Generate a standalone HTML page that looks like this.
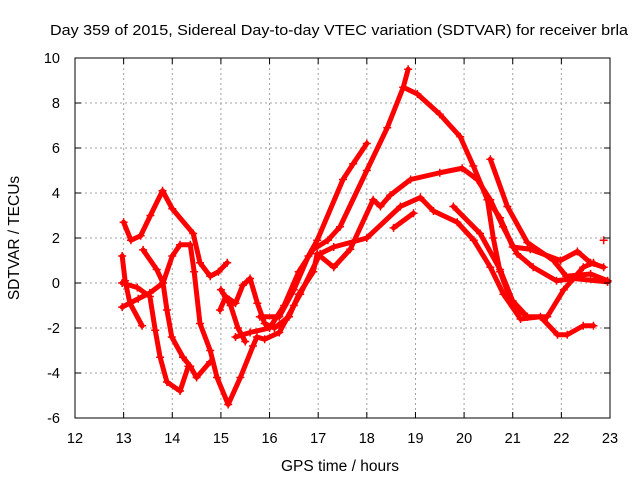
<!DOCTYPE html>
<html><head><meta charset="utf-8"><style>
html,body{margin:0;padding:0;background:#fff;}
svg{display:block;font-family:"Liberation Sans",sans-serif;}
</style></head><body>
<svg id="chart" width="640" height="480" viewBox="0 0 640 480" xmlns="http://www.w3.org/2000/svg">
<rect width="640" height="480" fill="#fff"/>
<text x="339" y="35" font-size="15" textLength="578" lengthAdjust="spacingAndGlyphs" text-anchor="middle">Day 359 of 2015, Sidereal Day-to-day VTEC variation (SDTVAR) for receiver brla</text>
<text x="340" y="471" font-size="15.5" text-anchor="middle">GPS time / hours</text>
<text transform="translate(19,238) rotate(-90)" font-size="15.5" text-anchor="middle">SDTVAR / TECUs</text>
<g id="grid"></g>
<g id="series"></g>
<g id="axes"></g>
</svg>
<script>
const xTicks = [12,13,14,15,16,17,18,19,20,21,22,23];
const yTicks = [-6,-4,-2,0,2,4,6,8,10];
const track1 = [[13.0,2.7],[13.15,1.9],[13.35,2.1],[13.55,3.0],[13.8,4.1],[14.0,3.3],[14.43,2.2],[14.57,0.9],[14.78,0.3],[14.95,0.5],[15.13,0.9]];
const track2 = [[12.97,-1.07],[13.3,-0.7],[13.54,-0.44],[13.81,0.0],[14.0,1.2],[14.16,1.7],[14.37,1.7],[14.45,0.5],[14.57,-1.8],[14.78,-3.0],[14.92,-4.2],[15.15,-5.4],[15.4,-4.2],[15.66,-2.8],[15.74,-2.4],[15.9,-2.5],[16.2,-2.2],[16.5,-1.0],[16.63,-0.5],[17.04,1.3],[17.32,1.6],[18.0,2.0],[18.69,3.4],[19.1,3.8],[19.37,3.2],[19.86,2.7],[20.2,1.9],[20.54,0.7],[20.81,-0.5],[21.16,-1.6],[21.57,-1.5],[21.92,-2.3],[22.12,-2.3],[22.45,-1.9],[22.66,-1.9]];
const track3 = [[13.4,1.47],[13.68,0.6],[13.81,0.0],[13.89,-1.2],[13.99,-2.4],[14.22,-3.3],[14.37,-3.7],[14.5,-4.2],[14.78,-3.5]];
const track4 = [[12.97,1.2],[13.03,0.1],[13.13,-0.9],[13.38,-1.9]];
const track5 = [[12.97,0.0],[13.28,-0.2],[13.54,-0.6],[13.65,-2.1],[13.75,-3.3],[13.89,-4.4],[14.16,-4.8],[14.33,-3.7]];
const track6 = [[14.98,-1.2],[15.1,-0.6],[15.3,-0.9],[15.45,-0.1],[15.6,0.2],[15.75,-0.9],[15.9,-1.8],[16.1,-2.0],[16.4,-1.5],[16.6,-0.5],[16.9,0.5],[16.98,1.3],[17.32,0.7],[17.66,1.5],[18.13,3.7],[18.28,3.4],[18.48,3.9],[18.9,4.6],[19.5,4.9],[19.96,5.1],[20.27,4.6],[20.54,3.7],[20.8,2.5],[21.09,1.3],[21.42,0.7],[21.9,0.1],[22.25,0.2],[22.95,0.05]];
const track7 = [[15.3,-2.4],[15.6,-2.2],[16.0,-2.0],[16.3,-1.0],[16.6,0.5],[16.9,1.5],[17.2,1.9],[17.45,2.5],[18.0,5.0],[18.42,6.9],[18.75,8.7],[18.85,9.5]];
const track8 = [[18.75,8.7],[19.04,8.4],[19.5,7.5],[19.92,6.5],[20.19,5.2],[20.48,3.7],[20.74,2.9],[21.0,1.6],[21.36,1.5],[21.98,1.0],[22.33,1.4],[22.6,0.9],[22.87,0.7]];
const track9 = [[15.8,-1.5],[16.2,-1.5],[16.5,-0.3],[16.8,1.2],[16.98,1.9],[17.51,4.6],[17.72,5.3],[18.0,6.2]];
const track10 = [[20.54,5.5],[20.89,3.4],[21.3,1.8],[21.84,1.0],[22.1,0.3],[22.6,0.4],[22.95,0.1]];
const track11 = [[19.78,3.4],[20.33,2.2],[20.74,0.6],[21.0,-0.8],[21.3,-1.5],[21.71,-1.5],[22.05,-0.3],[22.45,0.7],[22.66,0.9]];
const track12 = [[20.48,3.7],[20.6,2.0],[20.74,0.5],[21.0,-1.0],[21.3,-1.5]];
const track13 = [[18.55,2.45],[18.96,3.1]];
const track14 = [[22.87,1.9]];
const track15 = [[15.0,-0.3],[15.2,-1.0],[15.35,-2.0],[15.5,-2.6]];
const tracks = [track1,track2,track3,track4,track5,track6,track7,track8,track9,track10,track11,track12,track13,track14,track15];

const L=75,R=610,T=58,B=418,xmin=12,xmax=23,ymin=-6,ymax=10;
const sx=v=>L+(v-xmin)/(xmax-xmin)*(R-L);
const sy=v=>B-(v-ymin)/(ymax-ymin)*(B-T);
const NS="http://www.w3.org/2000/svg";
function mk(tag,parent,attrs){const e=document.createElementNS(NS,tag);for(const k in attrs)e.setAttribute(k,attrs[k]);parent.appendChild(e);return e;}
const grid=document.getElementById('grid'),axes=document.getElementById('axes'),ser=document.getElementById('series');
xTicks.forEach(t=>{
  const x=sx(t);
  if(t>xmin&&t<xmax){const g=mk('line',grid,{x1:x,x2:x,y1:T,y2:B,stroke:'#a0a0a0','stroke-dasharray':'2,3','stroke-width':1});
  
  }
  const a=mk('line',axes,{x1:x,x2:x,y1:B,y2:B-6,stroke:'#000'});
  
  
  const b=mk('line',axes,{x1:x,x2:x,y1:T,y2:T+6,stroke:'#000'});
  
  
  const tx=mk('text',axes,{x:x,y:443,'font-size':14.5,'text-anchor':'middle'});tx.textContent=t;
  
  
});
yTicks.forEach(t=>{
  const y=sy(t);
  if(t>ymin&&t<ymax){const g=mk('line',grid,{x1:L,x2:R,y1:y,y2:y,stroke:'#a0a0a0','stroke-dasharray':'2,3','stroke-width':1});
  
  }
  const a=mk('line',axes,{x1:L,x2:L+6,y1:y,y2:y,stroke:'#000'});
  
  
  const b=mk('line',axes,{x1:R,x2:R-6,y1:y,y2:y,stroke:'#000'});
  
  
  const tx=mk('text',axes,{x:60,y:y+5,'font-size':14.5,'text-anchor':'end'});tx.textContent=t;
  
  
});
const fr=mk('rect',axes,{x:L,y:T,width:R-L,height:B-T,fill:'none',stroke:'#000','stroke-width':1});


tracks.forEach((tr,i)=>{
  const pl=mk('polyline',ser,{points:tr.map(p=>sx(p[0])+','+sy(p[1])).join(' '),fill:'none',stroke:'#ff0000','stroke-width':5,'stroke-linejoin':'round','stroke-linecap':'round'});
  
  
  tr.forEach(p=>{
    const x=sx(p[0]),y=sy(p[1]);
    const m=mk('path',ser,{d:`M${x-4},${y}H${x+4}M${x},${y-4}V${y+4}`,stroke:'#ff0000','stroke-width':1.5});
    
    
  });
});
</script>
</body></html>
